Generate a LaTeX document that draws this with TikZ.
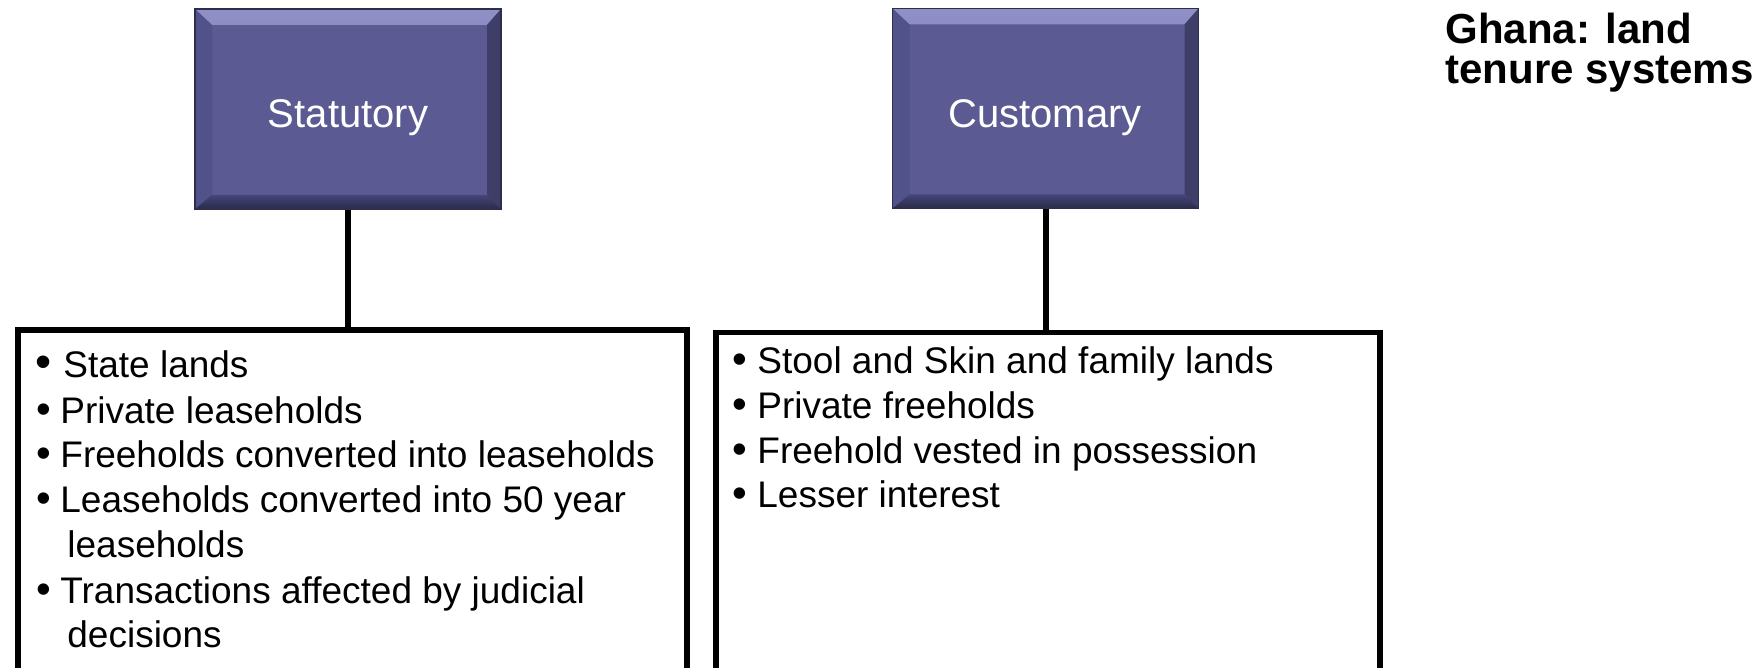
\documentclass[tikz,border=0pt]{standalone}
\usepackage{fontspec}
\setmainfont{Liberation Sans}
\definecolor{face}{HTML}{5B5A93}
\definecolor{bevtopA}{HTML}{9090C6}
\definecolor{bevtopB}{HTML}{6C6CA8}
\definecolor{bevleft}{HTML}{52528A}
\definecolor{bevright}{HTML}{3E3E68}
\definecolor{bevbotA}{HTML}{45457A}
\definecolor{bevbotB}{HTML}{2A2A48}
\definecolor{bevedge}{HTML}{2E2E4C}
\tikzset{
  bevelbox/.style={rectangle, inner sep=0pt, minimum width=153pt, minimum height=100pt,
    fill=face, draw=bevedge, line width=0.6pt,
    path picture={
      \shade[top color=bevtopA, bottom color=bevtopB]
        (path picture bounding box.north west) -- (path picture bounding box.north east)
        -- ([xshift=-7pt,yshift=-8pt]path picture bounding box.north east)
        -- ([xshift=8.5pt,yshift=-8pt]path picture bounding box.north west) -- cycle;
      \fill[bevleft]
        (path picture bounding box.north west) -- ([xshift=8.5pt,yshift=-8pt]path picture bounding box.north west)
        -- ([xshift=8.5pt,yshift=7pt]path picture bounding box.south west)
        -- (path picture bounding box.south west) -- cycle;
      \fill[bevright]
        (path picture bounding box.north east) -- (path picture bounding box.south east)
        -- ([xshift=-7pt,yshift=7pt]path picture bounding box.south east)
        -- ([xshift=-7pt,yshift=-8pt]path picture bounding box.north east) -- cycle;
      \shade[top color=bevbotA, bottom color=bevbotB]
        (path picture bounding box.south west) -- ([xshift=8.5pt,yshift=7pt]path picture bounding box.south west)
        -- ([xshift=-7pt,yshift=7pt]path picture bounding box.south east)
        -- (path picture bounding box.south east) -- cycle;
    }},
  boxlabel/.style={anchor=base, inner sep=0pt, text=white, font=\fontsize{20pt}{24pt}\selectfont},
  listbox/.style={rectangle, draw=black, line width=2.75pt, fill=white, inner sep=0pt, anchor=north west},
  item/.style={anchor=base west, inner sep=0pt, font=\fontsize{18.5pt}{22.5pt}\selectfont},
  conn/.style={draw=black, line width=3pt},
  titletext/.style={anchor=base west, inner sep=0pt, font=\bfseries\fontsize{21pt}{25pt}\selectfont}
}
\newcommand{\bigbul}{{\fontsize{21pt}{22pt}\selectfont •}}
\newcommand{\bulA}{\makebox[12pt][l]{\bigbul}}
\newcommand{\bulB}{\makebox[12.5pt][l]{\bigbul}}
\newcommand{\contA}{\makebox[15.5pt][l]{}}
\begin{document}
\begin{tikzpicture}[x=0.5pt, y=-0.5pt]
  \useasboundingbox (0,0) rectangle (1764,668);
  \clip (0,0) rectangle (1764,668);
  \fill[white] (0,0) rectangle (1764,668);

  % top boxes
  \node[bevelbox] (stat) at (348,109) {};
  \node[bevelbox] (cust) at (1045.5,108.5) {};
  \node[boxlabel] (statlabel) at (348,128) {Statutory};
  \node[boxlabel] (custlabel) at (1045,128) {Customary};

  % list boxes
  \node[listbox, minimum width=334.5pt, minimum height=171.5pt] (statlist) at (15,327) {};
  \node[listbox, minimum width=332pt, minimum height=170.25pt] (custlist) at (713,329.5) {};

  % connectors
  \draw[conn] (stat.south) -- (stat.south |- statlist.north);
  \draw[conn] (cust.south) -- (cust.south |- custlist.north);

  % left items
  \node[item] (s1) at (35,377) {\makebox[14pt][l]{\fontsize{23pt}{24pt}\selectfont •}State lands};
  \node[item] (s2) at (36,423) {\bulA Private leaseholds};
  \node[item] (s3) at (36,467) {\bulA Freeholds converted into leaseholds};
  \node[item] (s4) at (36,512) {\bulA Leaseholds converted into 50 year};
  \node[item] (s5) at (36,557) {\contA leaseholds};
  \node[item] (s6) at (36,603) {\bulA Transactions affected by judicial};
  \node[item] (s7) at (36,647) {\contA decisions};

  % right items
  \node[item] (c1) at (732,373) {\bulB Stool and Skin and family lands};
  \node[item] (c2) at (732,418) {\bulB Private freeholds};
  \node[item] (c3) at (732,463) {\bulB Freehold vested in possession};
  \node[item] (c4) at (732,507) {\bulB Lesser interest};

  % title
  \node[titletext] (t1) at (1445,44) {Ghana: land};
  \node[titletext] (t2) at (1445,84) {tenure systems};
\end{tikzpicture}
\end{document}
